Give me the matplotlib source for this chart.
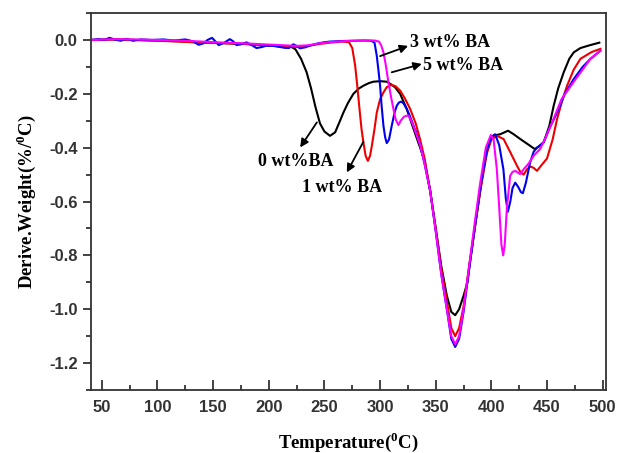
import matplotlib
matplotlib.use("Agg")
import matplotlib.pyplot as plt
from matplotlib.ticker import MultipleLocator

plt.rcParams['axes.unicode_minus'] = False
plt.rcParams['mathtext.fontset'] = 'custom'
plt.rcParams['mathtext.rm'] = 'Liberation Serif:bold'
plt.rcParams['mathtext.bf'] = 'Liberation Serif:bold'

# ---------------- data ----------------
t_0wt = [40, 60, 80, 100, 120, 140, 160, 180, 195, 205,
         215, 221, 224, 229, 234, 238, 242, 246, 250, 255,
         259.6, 263, 267, 271, 276, 281, 285, 290, 294, 300,
         306, 310, 313.5, 318, 324, 330, 336, 340, 345, 350,
         355, 360, 364, 367.5, 371, 375, 378.5, 381, 385, 390,
         394, 398, 402, 408, 415, 420, 426, 432, 439, 443,
         447, 452, 456, 460, 465, 470, 474, 480, 488, 497]
v_0wt = [0.0, 0.002, 0.0, -0.002, -0.005, -0.01, -0.012, -0.015, -0.02, -0.022,
         -0.025, -0.027, -0.035, -0.07, -0.12, -0.18, -0.25, -0.31, -0.34, -0.356,
         -0.343, -0.31, -0.27, -0.235, -0.20, -0.18, -0.17, -0.16, -0.155, -0.153,
         -0.155, -0.165, -0.176, -0.20, -0.257, -0.33, -0.40, -0.45, -0.56, -0.70,
         -0.84, -0.95, -1.01, -1.022, -1.0, -0.95, -0.90, -0.82, -0.70, -0.56,
         -0.45, -0.38, -0.355, -0.35, -0.337, -0.35, -0.368, -0.385, -0.405, -0.395,
         -0.38, -0.32, -0.244, -0.18, -0.12, -0.07, -0.046, -0.03, -0.02, -0.01]

t_1wt = [40, 60, 80, 100, 120, 140, 160, 180, 200, 215,
         225, 235, 245, 255, 265, 272, 275, 277.6, 279.5, 281.5,
         283.3, 285, 287, 289, 291, 292.6, 295, 297, 300, 303,
         306, 310.5, 314, 318, 322, 327, 332, 336, 340, 345,
         350, 355, 360, 364, 367.5, 371, 375, 380, 385, 390,
         396, 400, 405, 411, 417, 423, 426, 429, 432, 435,
         438, 441, 446, 450, 455, 459, 464, 468, 474, 480,
         490, 498]
v_1wt = [0.0, 0.002, 0.0, -0.003, -0.006, -0.01, -0.012, -0.015, -0.02, -0.024,
         -0.026, -0.022, -0.015, -0.01, -0.006, -0.008, -0.03, -0.095, -0.17, -0.256,
         -0.33, -0.38, -0.43, -0.449, -0.43, -0.393, -0.33, -0.27, -0.22, -0.195,
         -0.175, -0.167, -0.172, -0.188, -0.215, -0.256, -0.31, -0.37, -0.44, -0.56,
         -0.70, -0.85, -0.97, -1.07, -1.10, -1.07, -0.99, -0.84, -0.70, -0.56,
         -0.42, -0.37, -0.356, -0.368, -0.417, -0.467, -0.49, -0.50, -0.48, -0.47,
         -0.475, -0.486, -0.46, -0.44, -0.37, -0.294, -0.22, -0.17, -0.11, -0.07,
         -0.045, -0.033]

t_3wt = [40, 47, 52, 57, 62, 67, 72, 78, 85, 95,
         105, 115, 125, 132, 137, 141, 145, 149, 152, 155,
         160, 165, 168, 171, 175, 180, 185, 189, 194, 198,
         204, 210, 214, 218, 222, 225, 228, 233, 237, 243,
         249, 255, 265, 275, 285, 292, 295, 297, 299, 300,
         301.5, 303, 304.5, 306, 308, 310.5, 313, 315, 317, 319,
         321, 324, 327, 330, 333, 336, 340, 345, 350, 355,
         360, 364, 367.5, 371, 375, 380, 385, 390, 396, 400,
         403.4, 407, 410.8, 413, 414.8, 417, 419, 421.4, 424, 426.5,
         428.3, 431, 434.8, 438, 441, 447, 452, 459, 466, 474,
         482, 489, 498]
v_3wt = [0.0, 0.003, 0.0, 0.008, 0.001, -0.003, 0.004, -0.003, 0.002, 0.0,
         0.002, -0.002, 0.002, -0.005, -0.018, -0.013, 0.0, 0.008, -0.005, -0.019,
         -0.01, 0.003, -0.005, -0.019, -0.016, -0.009, -0.02, -0.03, -0.026, -0.021,
         -0.022, -0.026, -0.029, -0.03, -0.016, -0.022, -0.031, -0.027, -0.021, -0.014,
         -0.009, -0.006, -0.004, -0.003, -0.002, -0.003, -0.01, -0.058, -0.13, -0.17,
         -0.25, -0.318, -0.36, -0.383, -0.37, -0.318, -0.27, -0.244, -0.232, -0.229,
         -0.235, -0.256, -0.285, -0.318, -0.35, -0.39, -0.46, -0.56, -0.71, -0.87,
         -1.0, -1.11, -1.14, -1.11, -1.01, -0.85, -0.70, -0.55, -0.41, -0.36,
         -0.35, -0.39, -0.48, -0.59, -0.638, -0.60, -0.55, -0.53, -0.545, -0.565,
         -0.569, -0.53, -0.455, -0.415, -0.40, -0.38, -0.33, -0.27, -0.20, -0.145,
         -0.10, -0.07, -0.04]

t_5wt = [40, 60, 80, 100, 120, 140, 160, 180, 200, 215,
         225, 235, 245, 255, 265, 275, 285, 295, 299, 301,
         303, 305, 307.5, 310, 312, 314, 316.5, 318.5, 321, 323,
         325.5, 328, 330, 333, 336, 340, 345, 350, 355, 360,
         364, 367.5, 371, 375, 380, 385, 390, 395, 399.5, 402,
         404.9, 407, 409, 410.6, 412, 414, 416.9, 419, 421.4, 425.8,
         429, 433.3, 438, 443.8, 449, 455.8, 463, 473.7, 482, 489,
         498]
v_5wt = [0.0, 0.003, 0.002, 0.0, -0.002, -0.006, -0.01, -0.013, -0.017, -0.02,
         -0.022, -0.02, -0.013, -0.008, -0.005, -0.003, -0.002, -0.002, -0.006, -0.02,
         -0.046, -0.09, -0.157, -0.215, -0.256, -0.295, -0.316, -0.30, -0.287, -0.282,
         -0.281, -0.30, -0.32, -0.355, -0.39, -0.46, -0.56, -0.71, -0.87, -1.0,
         -1.10, -1.13, -1.10, -1.0, -0.84, -0.68, -0.53, -0.40, -0.353, -0.37,
         -0.48, -0.62, -0.76, -0.80, -0.76, -0.62, -0.504, -0.49, -0.486, -0.498,
         -0.48, -0.46, -0.43, -0.405, -0.36, -0.294, -0.22, -0.157, -0.11, -0.07,
         -0.04]

x_ticks = [50, 100, 150, 200, 250, 300, 350, 400, 450, 500]
y_ticks = [-1.2, -1.0, -0.8, -0.6, -0.4, -0.2, 0.0]
y_tick_labels = ["-1.2", "-1.0", "-0.8", "-0.6", "-0.4", "-0.2", "0.0"]

# ---------------- figure ----------------
fig = plt.figure(figsize=(6.18, 4.53), dpi=100)
ax = fig.add_axes([0.1468, 0.139, 0.8338, 0.8322])

lw = 1.5
ax.plot(t_0wt, v_0wt, color='black', lw=lw)
ax.plot(t_1wt, v_1wt, color='#ee0000', lw=lw)
ax.plot(t_3wt, v_3wt, color='#0000ee', lw=lw)
ax.plot(t_5wt, v_5wt, color='#ff00ff', lw=lw)

ax.set_xlim(40, 503)
ax.set_ylim(-1.3, 0.1)

ax.set_xticks(x_ticks)
ax.set_yticks(y_ticks)
ax.set_yticklabels(y_tick_labels)
ax.xaxis.set_minor_locator(MultipleLocator(25))
ax.yaxis.set_minor_locator(MultipleLocator(0.1))

ax.tick_params(axis='x', which='both', direction='in', width=1.2, colors='#222222',
               labelsize=12, pad=7)
ax.tick_params(axis='x', which='major', length=7)
ax.tick_params(axis='x', which='minor', length=3.5)
ax.tick_params(axis='y', which='both', direction='out', width=1.2, colors='#222222',
               labelsize=12)
ax.tick_params(axis='y', which='major', length=6)
ax.tick_params(axis='y', which='minor', length=3.5)
for lab in ax.get_xticklabels() + ax.get_yticklabels():
    lab.set_family('Liberation Sans')
    lab.set_fontweight('bold')
    lab.set_color('#333333')

for sp in ax.spines.values():
    sp.set_linewidth(1.3)
    sp.set_color('#333333')

serif = dict(family='Liberation Serif', fontweight='bold')
ax.set_xlabel('Temperature($^{0}$C)', fontsize=13.5, labelpad=11, **serif)
ax.set_ylabel('Derive.Weight(%/$^{0}$C)', fontsize=13.5, labelpad=8, **serif)

arrow = dict(arrowstyle='-|>', color='black', lw=1.3, mutation_scale=12,
             shrinkA=0, shrinkB=0)
ax.annotate('', xy=(325.2, -0.022), xytext=(300, -0.06), arrowprops=arrow)
ax.annotate('', xy=(337.5, -0.089), xytext=(310.5, -0.12), arrowprops=arrow)
ax.annotate('', xy=(228.2, -0.399), xytext=(243.2, -0.306), arrowprops=arrow)
ax.annotate('', xy=(270.1, -0.492), xytext=(285, -0.378), arrowprops=arrow)

ax.text(327, -0.011, '3 wt% BA', fontsize=13, ha='left', va='center', **serif)
ax.text(338.7, -0.0955, '5 wt% BA', fontsize=13, ha='left', va='center', **serif)
ax.text(190.5, -0.45, '0 wt%BA', fontsize=13, ha='left', va='center', **serif)
ax.text(229.7, -0.548, '1 wt% BA', fontsize=13, ha='left', va='center', **serif)

fig.savefig('out.png', dpi=100)
